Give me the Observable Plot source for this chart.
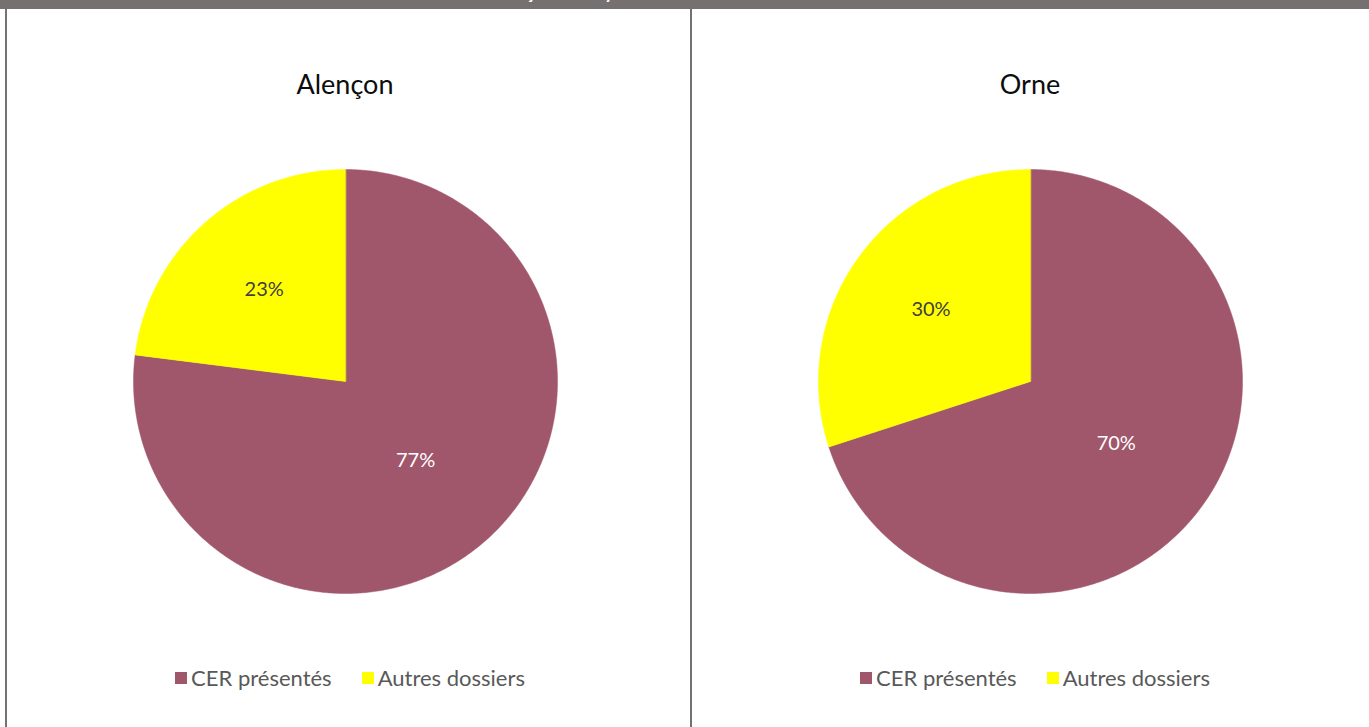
<!DOCTYPE html>
<html>
<head>
<meta charset="utf-8">
<script src="https://cdn.jsdelivr.net/npm/d3@7"></script>
<script src="https://cdn.jsdelivr.net/npm/@observablehq/plot@0.6"></script>
<style>
  html, body { margin: 0; padding: 0; background: #fff; overflow: hidden; }
  body { width: 1369px; height: 727px; position: relative; font-family: Lato, "Open Sans", sans-serif; }
  #bar { position: absolute; left: 0; top: 0; width: 1369px; height: 9px; background: #767171; overflow: hidden; }
  #bar span { position: absolute; top: -17px; white-space: nowrap; color: #fff; font: bold 18px Lato; line-height: 18px; }
  .vline { position: absolute; top: 9px; width: 2px; height: 718px; background: #767171; }
  .panel { position: absolute; top: 9px; width: 683px; height: 718px; }
  .title { position: absolute; left: 0; width: 676px; top: 59px; text-align: center; font-size: 27px; line-height: 32px; color: #0d0d0d; }
  .legend { position: absolute; left: 0; width: 686px; top: 656px; display: flex; justify-content: center; align-items: center; font-size: 22px; color: #595959; line-height: 26px; }
  .legend .item { display: flex; align-items: center; margin: 0 15px; }
  .legend .sw { width: 12px; height: 12px; margin-right: 4px; }
</style>
</head>
<body>
<div id="bar"><span id="barTitle"></span></div>
<div class="vline" style="left:5px"></div>
<div class="vline" style="left:690px"></div>
<div class="panel" id="p0" style="left:7px"></div>
<div class="panel" id="p1" style="left:692px"></div>
<script>
const barTitle = "Résultats à Alençon et moyenne de l'Orne";
const places = ["Alençon", "Orne"];
const categories = ["CER présentés", "Autres dossiers"];
const alenconValues = [77, 23];
const orneValues = [70, 30];
const colors = ["#A0566B", "#FFFF00"];
const labelColors = ["#ffffff", "#404040"];

// bar title (mostly clipped, as in the reference)
const span = document.getElementById("barTitle");
span.textContent = barTitle;
const ctx = document.createElement("canvas").getContext("2d");
ctx.font = "bold 18px Lato";
const preW = ctx.measureText(barTitle.slice(0, barTitle.indexOf("ç"))).width;
span.style.left = (526 - preW) + "px";

function makePanel(el, place, values) {
  const total = d3.sum(values);
  let acc = 0;
  const slices = values.map((v, i) => {
    const a0 = acc / total * 2 * Math.PI;
    acc += v;
    const a1 = acc / total * 2 * Math.PI;
    return {cat: categories[i], value: v, a0, a1, i};
  });
  const pts = slices.flatMap(s => {
    const n = Math.max(2, Math.ceil((s.a1 - s.a0) / (Math.PI / 360)));
    const arr = [{cat: s.cat, x: 0, y: 0}];
    for (let k = 0; k <= n; k++) {
      const a = s.a0 + (s.a1 - s.a0) * k / n;
      arr.push({cat: s.cat, x: Math.sin(a), y: Math.cos(a)});
    }
    return arr;
  });
  const labels = slices.map(s => {
    const m = (s.a0 + s.a1) / 2;
    const f = s.value / total > 0.5 ? 0.5 : 0.58;
    return {i: s.i, x: f * Math.sin(m), y: f * Math.cos(m), text: Math.round(s.value / total * 100) + "%"};
  });

  const title = document.createElement("div");
  title.className = "title";
  title.textContent = place;
  el.appendChild(title);

  const chart = Plot.plot({
    width: 683,
    height: 718,
    margin: 0,
    style: {fontFamily: "Lato, sans-serif", background: "transparent"},
    x: {domain: [-1, 1], range: [126, 550], axis: null},
    y: {domain: [-1, 1], range: [584, 160], axis: null},
    color: {domain: categories, range: colors},
    marks: [
      Plot.line(pts, {x: "x", y: "y", z: "cat", fill: "cat", stroke: "cat", strokeWidth: 0.5, curve: "linear-closed"}),
      ...labelColors.map((c, i) => Plot.text(labels.filter(d => d.i === i), {x: "x", y: "y", text: "text", fill: c, fontSize: 20}))
    ]
  });
  el.appendChild(chart);

  const legend = document.createElement("div");
  legend.className = "legend";
  categories.forEach((c, i) => {
    const item = document.createElement("div");
    item.className = "item";
    const sw = document.createElement("div");
    sw.className = "sw";
    sw.style.background = colors[i];
    const t = document.createElement("span");
    t.textContent = c;
    item.appendChild(sw);
    item.appendChild(t);
    legend.appendChild(item);
  });
  el.appendChild(legend);
}

makePanel(document.getElementById("p0"), places[0], alenconValues);
makePanel(document.getElementById("p1"), places[1], orneValues);
</script>
</body>
</html>
